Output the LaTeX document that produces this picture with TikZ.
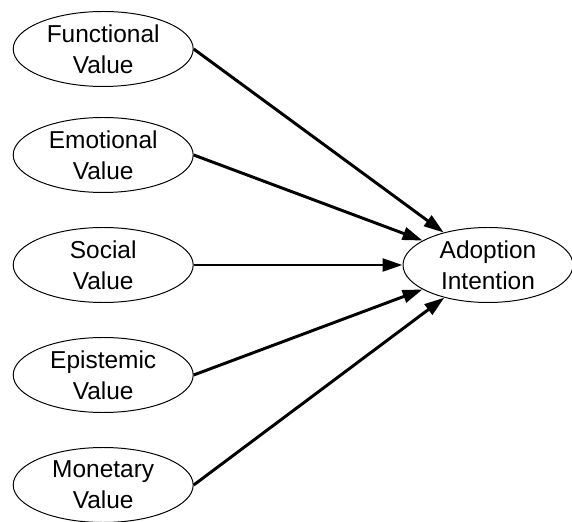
\documentclass[tikz,border=0pt]{standalone}
\usepackage{fontspec}
\setmainfont{Liberation Sans}
\usepackage{tikz}
\usetikzlibrary{arrows.meta, shapes.geometric}

\begin{document}
\begin{tikzpicture}[
    construct/.style={draw, ellipse, line width=0.7pt, inner sep=0pt,
                      minimum width=4.5cm, minimum height=1.875cm,
                      align=center, font=\fontsize{17.4}{22}\selectfont},
    path/.style={line width=2.1pt,
                 -{Triangle[length=5mm, width=3.2mm]}}]
  \useasboundingbox (0,0) rectangle (14.3,13.025);
  % Value dimensions on the left
  \node[construct] (FV) at (2.58, 11.8)  {Functional\\Value};
  \node[construct] (EV) at (2.58, 9.15)  {Emotional\\Value};
  \node[construct] (SV) at (2.58, 6.4)   {Social\\Value};
  \node[construct] (PV) at (2.58, 3.65)  {Epistemic\\Value};
  \node[construct] (MV) at (2.58, 0.9)   {Monetary\\Value};
  % Outcome
  \node[construct, minimum width=4.25cm] (AI) at (12.2, 6.4) {Adoption\\Intention};
  % Paths into the outcome
  \foreach \nd in {FV, EV, SV, PV, MV}
    \draw[path] (\nd.east) -- (AI);
\end{tikzpicture}
\end{document}
